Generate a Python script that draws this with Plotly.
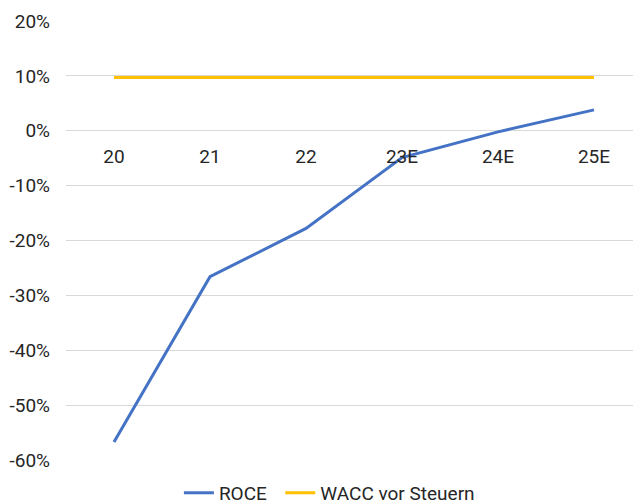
import plotly.graph_objects as go

categories = ["20", "21", "22", "23E", "24E", "25E"]
roce = [-0.567, -0.266, -0.178, -0.049, -0.002, 0.038]
wacc = [0.097, 0.097, 0.097, 0.097, 0.097, 0.097]
y_ticks = [-0.6, -0.5, -0.4, -0.3, -0.2, -0.1, 0.0, 0.1, 0.2]
y_labels = ["-60%", "-50%", "-40%", "-30%", "-20%", "-10%", "0%", "10%", "20%"]

fig = go.Figure()
fig.add_trace(go.Scatter(x=categories, y=roce, mode="lines", name="ROCE",
                         line=dict(color="#4472C4", width=3), legend="legend"))
fig.add_trace(go.Scatter(x=categories, y=wacc, mode="lines", name="WACC vor Steuern",
                         line=dict(color="#FFC000", width=3), legend="legend2"))

leg_common = dict(orientation="h", yanchor="middle", y=-0.075, xanchor="left",
                  font=dict(size=19, color="#262626"), itemwidth=30,
                  bgcolor="rgba(0,0,0,0)")

fig.update_layout(
    width=641, height=504,
    margin=dict(l=58, r=7, t=13, b=52, autoexpand=False),
    paper_bgcolor="white", plot_bgcolor="white",
    font=dict(family="Roboto", size=19, color="#262626"),
    showlegend=True,
    legend=dict(x=0.196, **leg_common),
    legend2=dict(x=0.372, **leg_common),
    xaxis=dict(type="category", range=[-0.5, 5.5], anchor="free", position=0.75,
               showgrid=False, showline=False, zeroline=False, automargin=False,
               ticks="outside", ticklen=8, tickcolor="rgba(0,0,0,0)"),
    yaxis=dict(range=[-0.6, 0.2], tickvals=y_ticks, ticktext=y_labels,
               showgrid=True, gridcolor="#d9d9d9", gridwidth=1, automargin=False,
               zeroline=True, zerolinecolor="#d9d9d9", zerolinewidth=1,
               showline=False, ticklabelstandoff=15),
)

fig.write_html("out.html")
